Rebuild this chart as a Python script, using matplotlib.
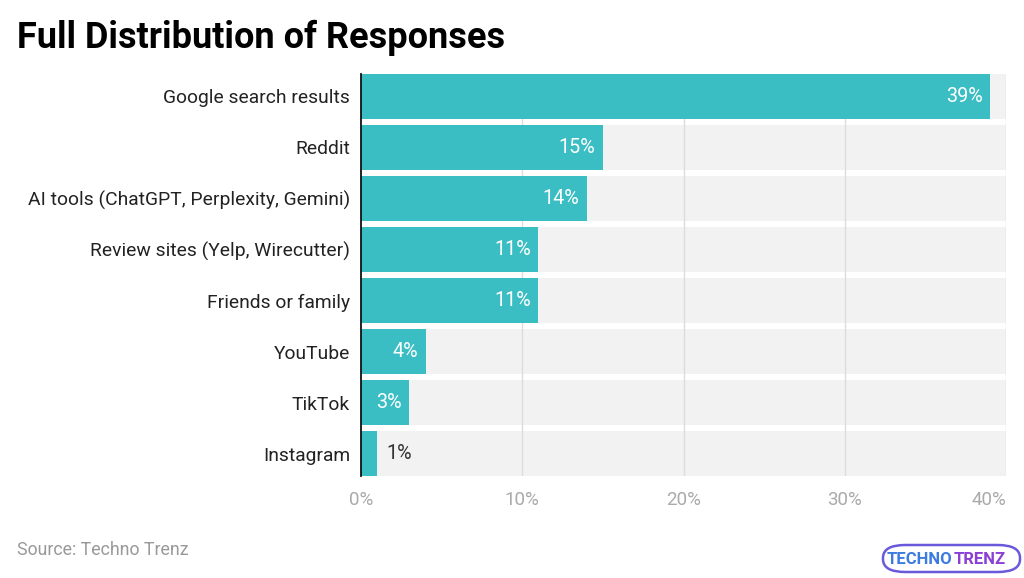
import matplotlib
matplotlib.use("Agg")
import matplotlib.pyplot as plt
from matplotlib.patches import FancyBboxPatch

categories = ["Google search results", "Reddit", "AI tools (ChatGPT, Perplexity, Gemini)",
              "Review sites (Yelp, Wirecutter)", "Friends or family", "YouTube", "TikTok", "Instagram"]
values = [39, 15, 14, 11, 11, 4, 3, 1]
xticks = [0, 10, 20, 30, 40]
xtick_labels = ["0%", "10%", "20%", "30%", "40%"]

plt.rcParams['font.family'] = ['Roboto', 'DejaVu Sans']

fig = plt.figure(figsize=(10.24, 5.78), dpi=100)
ax = fig.add_axes([361/1024, 1-476/578, (1006-361)/1024, (476-74)/578])

n = len(categories)
ypos = list(range(n))
h = 0.875
xmax = 40
ax.set_xlim(0, xmax)
ax.set_ylim(n - 1 + h/2, -h/2)

# background bands
ax.barh(ypos, [xmax]*n, height=h, color="#F2F2F2", zorder=1)
# grid lines
for t in xticks[1:]:
    ax.axvline(t, color="#DCDCDC", lw=1, zorder=2)
# bars
ax.barh(ypos, values, height=h, color="#3ABDC3", zorder=3)

for y, v in zip(ypos, values):
    if v >= 2:
        ax.text(v - 0.45, y, f"{v}%", ha="right", va="center", color="white", fontsize=14.2, zorder=4)
    else:
        ax.text(v + 0.55, y, f"{v}%", ha="left", va="center", color="#333333", fontsize=14.2, zorder=4)

ax.set_yticks(ypos)
ax.set_yticklabels(categories, fontsize=13.9, color="#222222")
ax.set_xticks(xticks)
ax.set_xticklabels(xtick_labels, fontsize=13.5, color="#AAAAAA")
ax.get_xticklabels()[-1].set_ha("right")
ax.tick_params(axis="y", length=0, pad=8)
ax.tick_params(axis="x", length=0, pad=11)
for s in ["top", "right", "bottom"]:
    ax.spines[s].set_visible(False)
ax.spines["left"].set_color("#111111")
ax.spines["left"].set_linewidth(1.3)
ax.spines["left"].set_zorder(5)

fig.text(17/1024, 1-38/578, "Full Distribution of Responses", fontsize=26, fontweight="bold",
         color="#000000", ha="left", va="center")
fig.text(17/1024, 1-550/578, "Source: Techno Trenz", fontsize=12.8, color="#999999",
         ha="left", va="center")

# logo
box = FancyBboxPatch((883/1024, 1-572/578), 137/1024, 27/578,
                     boxstyle="round,pad=0,rounding_size=0.022", transform=fig.transFigure,
                     facecolor="white", edgecolor="#6A5ADB", lw=1.8)
fig.patches.append(box)
fig.text(953/1024 - 0.001, 1-559/578, "TECHNO", fontsize=12, fontweight="bold", color="#3D7BE0",
         ha="right", va="center")
fig.text(953/1024 + 0.001, 1-559/578, "TRENZ", fontsize=12, fontweight="bold", color="#8B3FD6",
         ha="left", va="center")

fig.savefig("out.png", dpi=100)
